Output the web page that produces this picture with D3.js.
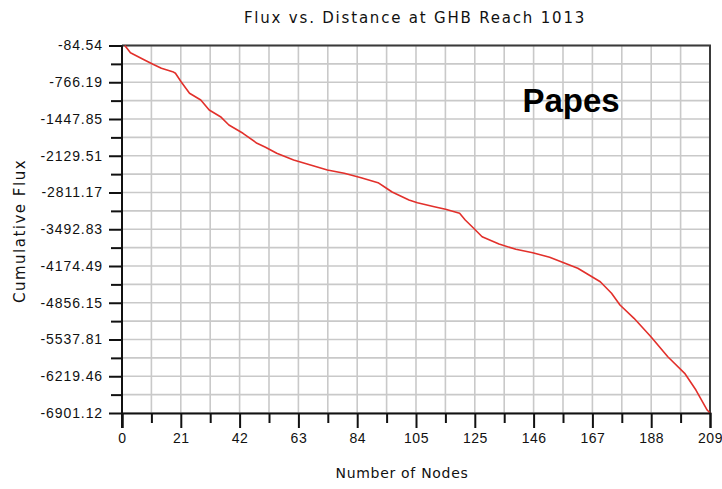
<!DOCTYPE html>
<html>
<head>
<meta charset="utf-8">
<script src="https://cdn.jsdelivr.net/npm/d3@7/dist/d3.min.js"></script>
<style>
  html, body { margin: 0; padding: 0; background: #ffffff; }
  svg { display: block; }
</style>
</head>
<body>
<svg id="chart" width="722" height="489"></svg>
<script>
// ---- data ----
const titleText = "Flux vs. Distance at GHB Reach 1013";
const xLabelText = "Number of Nodes";
const yLabelText = "Cumulative Flux";
const annotationText = "Papes";

const xTickLabels = ["0", "21", "42", "63", "84", "105", "125", "146", "167", "188", "209"];
const yTickLabels = ["-84.54", "-766.19", "-1447.85", "-2129.51", "-2811.17", "-3492.83",
                     "-4174.49", "-4856.15", "-5537.81", "-6219.46", "-6901.12"];

const nodes = [1, 3, 8, 11, 14, 18, 19, 21, 24, 28, 31, 35, 38, 43, 48, 51, 55, 61, 67, 73,
               79, 85, 91, 94, 96, 99, 102, 105, 111, 115, 120, 122, 125, 128, 134, 140, 146,
               152, 157, 162, 166, 170, 174, 177, 182, 188, 194, 200, 204, 208, 209];
const flux = [-84.54, -218, -353, -433, -507, -570, -600, -756, -971, -1095, -1281, -1405,
              -1559, -1713, -1899, -1973, -2084, -2208, -2301, -2394, -2455, -2537, -2629,
              -2733, -2802, -2876, -2950, -3000, -3075, -3123, -3197, -3321, -3475, -3631,
              -3767, -3865, -3928, -4013, -4113, -4217, -4342, -4466, -4681, -4898, -5145,
              -5486, -5857, -6165, -6475, -6846, -6901.12];

// ---- layout ----
const svg = d3.select("#chart");
const L = 122, R = 710, T = 45.5, B = 413;
const xMax = 209, yMin = -6901.12, yMax = -84.54;

const x = d3.scaleLinear().domain([0, xMax]).range([L, R]);
const y = d3.scaleLinear().domain([yMin, yMax]).range([B, T]);

const nDiv = xTickLabels.length - 1;
const xMajor = xTickLabels.map((_, i) => i * xMax / nDiv);
const xMinor = d3.range(nDiv).map(i => (i + 0.5) * xMax / nDiv);
const yMajor = yTickLabels.map((_, i) => yMax + i * (yMin - yMax) / nDiv);
const yMinor = d3.range(nDiv).map(i => yMax + (i + 0.5) * (yMin - yMax) / nDiv);

// grid
const grid = svg.append("g").attr("stroke", "#c9c9c9").attr("stroke-width", 1.6);
xMajor.concat(xMinor).forEach(v => {
  grid.append("line").attr("x1", x(v)).attr("x2", x(v)).attr("y1", T).attr("y2", B);
});
yMajor.concat(yMinor).forEach(v => {
  grid.append("line").attr("x1", L).attr("x2", R).attr("y1", y(v)).attr("y2", y(v));
});

// top/right frame
svg.append("path")
  .attr("d", `M${L},${T}H${R}V${B}`)
  .attr("fill", "none").attr("stroke", "#3a3a3a").attr("stroke-width", 2);

// line
const line = d3.line().x((d, i) => x(nodes[i])).y(d => y(d));
svg.append("path")
  .datum(flux)
  .attr("d", line)
  .attr("fill", "none")
  .attr("stroke", "#e2302b")
  .attr("stroke-width", 1.6)
  .attr("stroke-linejoin", "round");

const tickFont = "Liberation Sans, Arial, sans-serif";

// x axis
const xAxis = d3.axisBottom(x).tickValues(xMajor)
  .tickFormat((d, i) => xTickLabels[i]).tickSize(15).tickPadding(5);
const gx = svg.append("g").attr("transform", `translate(0,${B})`).call(xAxis);
gx.select(".domain").attr("stroke", "#111").attr("stroke-width", 2);
gx.selectAll(".tick line").attr("stroke", "#111").attr("stroke-width", 2);
gx.selectAll(".tick text").attr("fill", "#111")
  .style("font-family", tickFont).style("font-size", "14px").style("letter-spacing", "0.5px");
const gxm = svg.append("g").attr("transform", `translate(0,${B})`)
  .call(d3.axisBottom(x).tickValues(xMinor).tickSize(10).tickFormat(""));
gxm.select(".domain").remove();
gxm.selectAll(".tick line").attr("stroke", "#111").attr("stroke-width", 2);

// y axis
const yAxis = d3.axisLeft(y).tickValues(yMajor)
  .tickFormat((d, i) => yTickLabels[i]).tickSize(13).tickPadding(6);
const gy = svg.append("g").attr("transform", `translate(${L},0)`).call(yAxis);
gy.select(".domain").attr("stroke", "#111").attr("stroke-width", 2)
  .attr("d", `M0,${T}V${B + 15}`);
gy.selectAll(".tick line").attr("stroke", "#111").attr("stroke-width", 2);
gy.selectAll(".tick text").attr("fill", "#111")
  .style("font-family", tickFont).style("font-size", "14px").style("letter-spacing", "0.9px");
const gym = svg.append("g").attr("transform", `translate(${L},0)`)
  .call(d3.axisLeft(y).tickValues(yMinor).tickSize(11).tickFormat(""));
gym.select(".domain").remove();
gym.selectAll(".tick line").attr("stroke", "#111").attr("stroke-width", 2);

// title and labels
svg.append("text")
  .attr("x", 415).attr("y", 23).attr("text-anchor", "middle")
  .style("font-family", "DejaVu Sans, sans-serif").style("font-size", "15px")
  .style("letter-spacing", "1.8px").attr("fill", "#111")
  .text(titleText);

svg.append("text")
  .attr("x", 402).attr("y", 478).attr("text-anchor", "middle")
  .style("font-family", "DejaVu Sans, sans-serif").style("font-size", "14px")
  .style("letter-spacing", "0.7px").attr("fill", "#111")
  .text(xLabelText);

svg.append("text")
  .attr("transform", "translate(25,231) rotate(-90)").attr("text-anchor", "middle")
  .style("font-family", "DejaVu Sans, sans-serif").style("font-size", "15px")
  .style("letter-spacing", "1.5px").attr("fill", "#111")
  .text(yLabelText);

svg.append("text")
  .attr("x", 571).attr("y", 112).attr("text-anchor", "middle")
  .style("font-family", "Liberation Sans, Arial, sans-serif").style("font-size", "33px")
  .style("font-weight", "bold").attr("fill", "#000")
  .text(annotationText);
</script>
</body>
</html>
